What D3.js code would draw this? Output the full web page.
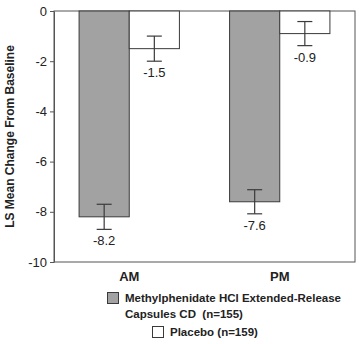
<!DOCTYPE html>
<html><head><meta charset="utf-8">
<script src="https://cdn.jsdelivr.net/npm/d3@7"></script>
<style>body{margin:0;background:#fff}svg{display:block}text{font-family:"Liberation Sans",Arial,sans-serif}</style>
</head><body><svg id="c" width="359" height="344"></svg>
<script>
const categories = ["AM", "PM"];
const seriesNames = ["Methylphenidate HCl Extended-Release Capsules CD (n=155)", "Placebo (n=159)"];
const drugValues = [-8.2, -7.6];
const placeboValues = [-1.5, -0.9];
const drugErr = [0.5, 0.48];
const placeboErr = [0.5, 0.48];
const yTicks = [0, -2, -4, -6, -8, -10];

const svg = d3.select("#c");
const m = {l: 54, r: 4, t: 11, b: 82};
const W = 359, H = 344;
const x0 = d3.scaleBand().domain(categories).range([m.l, W - m.r]).paddingInner(0).paddingOuter(0);
const x1 = d3.scaleBand().domain([0, 1]).range([0, x0.bandwidth()]).paddingOuter(0.5).paddingInner(0);
const y = d3.scaleLinear().domain([-10, 0]).range([H - m.b, m.t]);
const colors = ["#a2a2a2", "#ffffff"];
const stroke = "#3a3a3a";

// frame
svg.append("rect").attr("x", m.l).attr("y", m.t).attr("width", W - m.r - m.l).attr("height", y(-10) - m.t)
  .attr("fill", "none").attr("stroke", "#555").attr("stroke-width", 1);

const series = [drugValues, placeboValues];
const errs = [drugErr, placeboErr];
categories.forEach((c, ci) => {
  series.forEach((vals, si) => {
    const v = vals[ci];
    const bx = x0(c) + x1(si);
    const bw = x1.bandwidth();
    svg.append("rect").attr("x", bx).attr("y", y(0)).attr("width", bw).attr("height", y(v) - y(0))
      .attr("fill", colors[si]).attr("stroke", stroke).attr("stroke-width", 1);
    const cx = bx + bw / 2, e = errs[si][ci];
    const g = svg.append("g").attr("stroke", stroke).attr("stroke-width", 1.2);
    g.append("line").attr("x1", cx).attr("x2", cx).attr("y1", y(v + e)).attr("y2", y(v - e));
    g.append("line").attr("x1", cx - 7.5).attr("x2", cx + 7.5).attr("y1", y(v + e)).attr("y2", y(v + e));
    g.append("line").attr("x1", cx - 7.5).attr("x2", cx + 7.5).attr("y1", y(v - e)).attr("y2", y(v - e));
    svg.append("text").attr("x", cx).attr("y", y(v - e) + 16).attr("text-anchor", "middle")
      .attr("font-size", 13).attr("fill", "#222").text(v.toFixed(1));
  });
});

// y axis
const ya = svg.append("g").attr("transform", `translate(${m.l},0)`)
  .call(d3.axisLeft(y).tickValues(yTicks).tickSize(4).tickPadding(3).tickSizeOuter(0).tickFormat(d => d3.format("d")(d).replace("−", "-")));
ya.select(".domain").attr("stroke", "#555");
ya.selectAll(".tick line").attr("stroke", "#555");
ya.selectAll(".tick text").attr("font-size", 13).attr("fill", "#222").attr("font-family", "Liberation Sans, Arial, sans-serif");

svg.append("text").attr("transform", `translate(14,${(m.t + y(-10)) / 2}) rotate(-90)`)
  .attr("text-anchor", "middle").attr("font-size", 12).attr("font-weight", "bold").attr("fill", "#222")
  .text("LS Mean Change From Baseline");

// x labels
categories.forEach(c => {
  svg.append("text").attr("x", x0(c) + x0.bandwidth() / 2).attr("y", 281).attr("text-anchor", "middle")
    .attr("font-size", 13).attr("font-weight", "bold").attr("fill", "#222").text(c);
});

// legend
const lg = svg.append("g").attr("font-size", 11.5).attr("font-weight", "bold").attr("fill", "#222");
lg.append("rect").attr("x", 107.5).attr("y", 292.5).attr("width", 11).attr("height", 11).attr("fill", colors[0]).attr("stroke", stroke);
lg.append("text").attr("x", 125).attr("y", 302).text("Methylphenidate HCl Extended-Release");
lg.append("text").attr("x", 125).attr("y", 318).attr("xml:space", "preserve").text("Capsules CD  (n=155)");
lg.append("rect").attr("x", 152.5).attr("y", 326.5).attr("width", 11).attr("height", 11).attr("fill", colors[1]).attr("stroke", stroke);
lg.append("text").attr("x", 170).attr("y", 336).text("Placebo (n=159)");
</script></body></html>
